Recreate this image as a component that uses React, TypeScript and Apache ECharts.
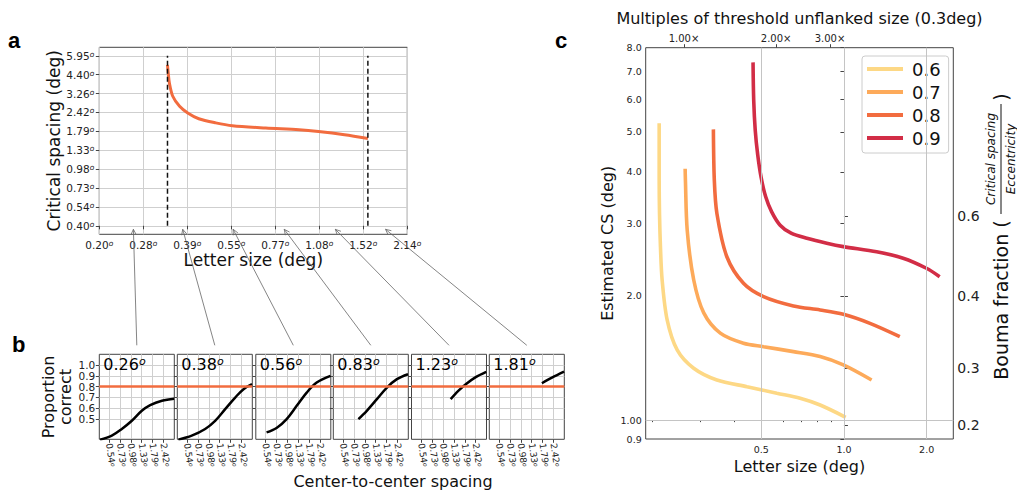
import React, { useEffect, useRef } from 'react';
import * as echarts from 'echarts';

// ---------------- Panel a data ----------------
const A_X_TICKS = ['0.20', '0.28', '0.39', '0.55', '0.77', '1.08', '1.52', '2.14'];
const CS_TICKS = ['0.40', '0.54', '0.73', '0.98', '1.33', '1.79', '2.42', '3.26', '4.40', '5.95'];
const A_SIZE = [0.338, 0.340, 0.343, 0.352, 0.371, 0.395, 0.43, 0.49, 0.557, 0.72, 0.93, 1.08, 1.32, 1.58];
const A_CS = [5.16, 4.52, 3.86, 3.13, 2.67, 2.40, 2.19, 2.05, 1.96, 1.89, 1.84, 1.79, 1.70, 1.60];
const A_LIMITS = [0.338, 1.58];

// ---------------- Panel b data ----------------
const B_SIZES = [0.26, 0.38, 0.56, 0.83, 1.23, 1.81];
const B_SIZE_LABELS = ['0.26', '0.38', '0.56', '0.83', '1.23', '1.81'];
const B_Y_TICKS = [0.5, 0.6, 0.7, 0.8, 0.9, 1.0];
const B_X_TICK_INDEX = [1, 2, 3, 4, 5, 6];
const B_THRESHOLD = 0.8;
const B1_SPACING = [0.421, 0.582, 0.767, 1.011, 1.332, 1.679, 2.322, 3.25];
const B1_PC = [0.307, 0.344, 0.406, 0.482, 0.575, 0.628, 0.668, 0.686];
const B2_SPACING = [0.425, 0.614, 0.889, 1.171, 1.544, 2.035, 2.563, 3.24];
const B2_PC = [0.307, 0.344, 0.406, 0.482, 0.590, 0.698, 0.776, 0.822];
const B3_SPACING = [0.555, 0.731, 0.966, 1.274, 1.679, 2.213, 3.24];
const B3_PC = [0.374, 0.415, 0.498, 0.621, 0.744, 0.837, 0.899];
const B4_SPACING = [0.824, 1.039, 1.373, 1.81, 2.385, 3.24];
const B4_PC = [0.498, 0.575, 0.683, 0.791, 0.869, 0.915];
const B5_SPACING = [1.215, 1.498, 1.893, 2.375, 3.24];
const B5_PC = [0.683, 0.760, 0.828, 0.883, 0.936];
const B6_SPACING = [1.76, 2.322, 3.24];
const B6_PC = [0.831, 0.883, 0.939];

// ---------------- Panel c data ----------------
const C_LEVELS = ['0.6', '0.7', '0.8', '0.9'];
const C06_SIZE = [0.2127, 0.2127, 0.2133, 0.215, 0.218, 0.2274, 0.2473, 0.284, 0.345, 0.444, 0.570, 0.693, 0.819, 1.015];
const C06_CS = [5.25, 3.82, 3.17, 2.63, 2.19, 1.75, 1.48, 1.336, 1.251, 1.205, 1.162, 1.130, 1.088, 1.016];
const C07_SIZE = [0.2644, 0.265, 0.269, 0.284, 0.309, 0.355, 0.431, 0.510, 0.655, 0.819, 0.995, 1.261];
const C07_CS = [4.07, 3.82, 2.89, 2.19, 1.82, 1.625, 1.536, 1.507, 1.466, 1.426, 1.361, 1.251];
const C08_SIZE = [0.335, 0.3376, 0.345, 0.375, 0.431, 0.510, 0.655, 0.819, 0.995, 1.244, 1.597];
const C08_CS = [5.07, 3.82, 3.17, 2.49, 2.147, 1.993, 1.892, 1.85, 1.806, 1.717, 1.594];
const C09_SIZE = [0.467, 0.4696, 0.4756, 0.4856, 0.5, 0.5192, 0.5459, 0.586, 0.6424, 0.733, 0.866, 0.995, 1.315, 1.642, 1.996, 2.23];
const C09_CS = [7.37, 5.97, 5.05, 4.40, 3.87, 3.48, 3.20, 2.97, 2.84, 2.76, 2.685, 2.635, 2.56, 2.47, 2.335, 2.228];
const C_X_MAJOR = [0.5, 1.0, 2.0];
const C_X_MAJOR_LABELS = ['0.5', '1.0', '2.0'];
const C_X_MINOR = [0.2, 0.3, 0.4, 0.6, 0.7, 0.8, 0.9];
const C_Y_TICKS = [0.9, 1, 2, 3, 4, 5, 6, 7, 8];
const C_Y_LABELS = ['0.9', '1.00', '2.0', '3.0', '4.0', '5.0', '6.0', '7.0', '8.0'];
const C_TOP_TICKS = [1, 2, 3];
const C_TOP_LABELS = ['1.00×', '2.00×', '3.00×'];
const BOUMA_TICKS = ['0.2', '0.3', '0.4', '0.6'];
const BOUMA_AT_CS = [0.973, 1.336, 2.0, 3.126];
const C_GRID_X = [0.5, 1.0, 2.0];
const C_GRID_Y = [1.0];

// ---------------- scales / layout ----------------
const C_X_RANGE = [0.19, 2.5];
const C_Y_RANGE = [0.9, 8];
const C_TOP_RANGE = [0.75, 7.58];
const B_X_RANGE = [0.1, 7];
const B_Y_RANGE = [0.31, 1.1];

const FONT = 'DejaVu Sans';
const COLORS = ['#fdd885', '#fdaa5a', '#f26c3f', '#d22d46'];
const RED = '#f26c3f';

const LA = { left: 99.3, top: 47.3, width: 308, height: 187 };
const LB = { lefts: [99.3, 177.3, 255.8, 333.3, 411.5, 489.3], top: 354.3, width: 75, height: 85 };
const LC = { left: 645.7, top: 47.7, width: 307.6, height: 391.3 };

const A0 = parseFloat(A_X_TICKS[0]);
const A1 = parseFloat(A_X_TICKS[A_X_TICKS.length - 1]);
const C0 = parseFloat(CS_TICKS[0]);
const C1 = parseFloat(CS_TICKS[CS_TICKS.length - 1]);
const aX = (s: number) => (Math.log(s / A0) / Math.log(A1 / A0)) * (A_X_TICKS.length - 1);
const csY = (v: number) => (Math.log(v / C0) / Math.log(C1 / C0)) * (CS_TICKS.length - 1);
const lg = Math.log10;
const ln = Math.log;

const near = (a: number, b: number) => Math.abs(a - b) < 1e-6;
const idxOf = (arr: number[], v: number, f: (x: number) => number) => arr.findIndex((t) => near(f(t), v));

const supRich = (size: number, sup: number) => ({
  n: { fontSize: size, color: '#222', fontFamily: FONT },
  s: { fontSize: sup, color: '#222', fontFamily: FONT, fontStyle: 'italic', verticalAlign: 'top' },
});

export default function App() {
  const ref = useRef<HTMLDivElement>(null);
  useEffect(() => {
    if (!ref.current) return;
    const chart = echarts.init(ref.current, null, { renderer: 'svg' });

    const grids: any[] = [];
    const xAxes: any[] = [];
    const yAxes: any[] = [];
    const series: any[] = [];
    const gridBase = { show: true, borderColor: '#444', borderWidth: 1, containLabel: false };
    const split = { show: true, lineStyle: { color: '#cfcfcf', width: 1 } };
    const tick = (len: number) => ({ show: true, length: len, lineStyle: { color: '#444', width: 1 } });
    const always = { showMinLabel: true, showMaxLabel: true, hideOverlap: false };

    // ---- panel a ----
    grids.push({ ...gridBase, left: LA.left, top: LA.top, width: LA.width, height: LA.height });
    xAxes.push({
      type: 'value', gridIndex: 0, min: 0, max: A_X_TICKS.length - 1, interval: 1,
      axisLine: { show: false }, axisTick: tick(3.5), splitLine: split,
      axisLabel: {
        ...always, margin: 5,
        formatter: (v: number) => {
          const i = Math.round(v);
          return near(v, i) ? `{n|${A_X_TICKS[i]}}{s|o}` : '';
        },
        rich: supRich(10.5, 7.5),
      },
      name: 'Letter size (deg)', nameLocation: 'middle', nameGap: 16,
      nameTextStyle: { fontSize: 17, color: '#111', fontFamily: FONT },
    });
    const csIdx = CS_TICKS.map((_, i) => i);
    yAxes.push({
      type: 'value', gridIndex: 0, min: -0.45, max: CS_TICKS.length - 1 + 0.45,
      axisLine: { show: false }, axisTick: { ...tick(3.5), customValues: csIdx }, splitLine: split,
      axisLabel: {
        ...always, customValues: csIdx, margin: 5,
        formatter: (v: number) => {
          const i = Math.round(v);
          return near(v, i) ? `{n|${CS_TICKS[i]}}{s|o}` : '';
        },
        rich: supRich(10.5, 7.5),
      },
      name: 'Critical spacing (deg)', nameLocation: 'middle', nameGap: 36,
      nameTextStyle: { fontSize: 17, color: '#111', fontFamily: FONT },
    });
    series.push({
      type: 'line', xAxisIndex: 0, yAxisIndex: 0, showSymbol: false, smooth: 0.3, z: 3,
      lineStyle: { color: RED, width: 3 },
      data: A_SIZE.map((s, i) => [aX(s), csY(A_CS[i])]),
    });
    A_LIMITS.forEach((s) => {
      series.push({
        type: 'line', xAxisIndex: 0, yAxisIndex: 0, showSymbol: false, z: 4,
        lineStyle: { color: '#111', width: 1.5, type: [5, 3] },
        data: [[aX(s), csY(C0)], [aX(s), csY(C1)]],
      });
    });

    // ---- panel b ----
    const bSp = [B1_SPACING, B2_SPACING, B3_SPACING, B4_SPACING, B5_SPACING, B6_SPACING];
    const bPc = [B1_PC, B2_PC, B3_PC, B4_PC, B5_PC, B6_PC];
    const bLabelsA = B_Y_TICKS.filter((_, i) => i % 2 === 0);
    const bLabelsB = B_Y_TICKS.filter((_, i) => i % 2 === 1);
    const bYLabel = (vals: number[]) => ({
      ...always, customValues: vals, margin: 4, fontSize: 10.5, lineHeight: 10,
      color: '#222', fontFamily: FONT,
      formatter: (v: number) => v.toFixed(1),
    });
    LB.lefts.forEach((left, k) => {
      const gi = grids.length;
      grids.push({ ...gridBase, left, top: LB.top, width: LB.width, height: LB.height });
      xAxes.push({
        type: 'value', gridIndex: gi, min: B_X_RANGE[0], max: B_X_RANGE[1],
        axisLine: { show: false }, axisTick: { ...tick(3.5), customValues: B_X_TICK_INDEX }, splitLine: split,
        axisLabel: {
          ...always, customValues: B_X_TICK_INDEX, rotate: -82, margin: 4,
          formatter: (v: number) => {
            const i = Math.round(v);
            return near(v, i) ? `{n|${CS_TICKS[i]}}{s|o}` : '';
          },
          rich: supRich(9, 6),
        },
      });
      yAxes.push({
        type: 'value', gridIndex: gi, min: B_Y_RANGE[0], max: B_Y_RANGE[1],
        axisLine: { show: false }, axisTick: { ...tick(3.5), customValues: B_Y_TICKS }, splitLine: split,
        axisLabel: k === 0 ? bYLabel(bLabelsA) : { show: false },
      });
      series.push({
        type: 'line', xAxisIndex: gi, yAxisIndex: gi, showSymbol: false, smooth: 0.35, z: 3,
        lineStyle: { color: '#000', width: 2.5 },
        data: bSp[k].map((s, i) => [csY(s), bPc[k][i]]),
        markLine: {
          silent: true, symbol: 'none', label: { show: false },
          lineStyle: { color: RED, width: 2.5, type: 'solid' },
          data: [{ yAxis: B_THRESHOLD }],
        },
      });
    });

    // ---- panel c ----
    const cg = grids.length;
    grids.push({ ...gridBase, left: LC.left, top: LC.top, width: LC.width, height: LC.height });
    const cxMain = xAxes.length;
    xAxes.push({
      type: 'value', gridIndex: cg, position: 'bottom', min: lg(C_X_RANGE[0]), max: lg(C_X_RANGE[1]),
      axisLine: { show: false }, splitLine: { show: false },
      axisTick: { ...tick(3.5), customValues: C_X_MAJOR.map(lg) },
      axisLabel: {
        ...always, customValues: C_X_MAJOR.map(lg), margin: 5, fontSize: 9.5, color: '#222', fontFamily: FONT,
        formatter: (v: number) => { const i = idxOf(C_X_MAJOR, v, lg); return i >= 0 ? C_X_MAJOR_LABELS[i] : ''; },
      },
      name: 'Letter size (deg)', nameLocation: 'middle', nameGap: 17,
      nameTextStyle: { fontSize: 16, color: '#111', fontFamily: FONT },
    });
    xAxes.push({
      type: 'value', gridIndex: cg, position: 'bottom', min: lg(C_X_RANGE[0]), max: lg(C_X_RANGE[1]),
      axisLine: { show: false }, splitLine: { show: false },
      axisTick: { ...tick(2), customValues: C_X_MINOR.map(lg) },
      axisLabel: { show: false },
    });
    xAxes.push({
      type: 'value', gridIndex: cg, position: 'top', min: ln(C_TOP_RANGE[0]), max: ln(C_TOP_RANGE[1]),
      axisLine: { show: false }, splitLine: { show: false },
      axisTick: { ...tick(3.5), customValues: C_TOP_TICKS.map(ln) },
      axisLabel: {
        ...always, customValues: C_TOP_TICKS.map(ln), margin: 4, fontSize: 10, color: '#222', fontFamily: FONT,
        formatter: (v: number) => { const i = idxOf(C_TOP_TICKS, v, ln); return i >= 0 ? C_TOP_LABELS[i] : ''; },
      },
      name: 'Multiples of threshold unflanked size (0.3deg)', nameLocation: 'middle', nameGap: 21,
      nameTextStyle: { fontSize: 16, color: '#111', fontFamily: FONT },
    });
    const cyLeft = yAxes.length;
    yAxes.push({
      type: 'value', gridIndex: cg, position: 'left', min: lg(C_Y_RANGE[0]), max: lg(C_Y_RANGE[1]),
      axisLine: { show: false }, splitLine: { show: false },
      axisTick: { ...tick(3.5), customValues: C_Y_TICKS.map(lg) },
      axisLabel: {
        ...always, customValues: C_Y_TICKS.map(lg), margin: 4, fontSize: 9.5, color: '#222', fontFamily: FONT,
        formatter: (v: number) => { const i = idxOf(C_Y_TICKS, v, lg); return i >= 0 ? C_Y_LABELS[i] : ''; },
      },
      name: 'Estimated CS (deg)', nameLocation: 'middle', nameGap: 30,
      nameTextStyle: { fontSize: 16, color: '#111', fontFamily: FONT },
    });
    yAxes.push({
      type: 'value', gridIndex: cg, position: 'right', min: lg(C_Y_RANGE[0]), max: lg(C_Y_RANGE[1]),
      axisLine: { show: false }, splitLine: { show: false },
      axisTick: { ...tick(4), customValues: BOUMA_AT_CS.map(lg) },
      axisLabel: {
        ...always, customValues: BOUMA_AT_CS.map(lg), margin: 4, fontSize: 14, color: '#222', fontFamily: FONT,
        formatter: (v: number) => { const i = idxOf(BOUMA_AT_CS, v, lg); return i >= 0 ? BOUMA_TICKS[i] : ''; },
      },
    });
    // second label layer for the first panel-b subplot (alternate tick labels)
    yAxes.push({
      type: 'value', gridIndex: 1, position: 'left', min: B_Y_RANGE[0], max: B_Y_RANGE[1],
      axisLine: { show: false }, axisTick: { show: false }, splitLine: { show: false },
      axisLabel: bYLabel(bLabelsB),
    });
    series.push({
      type: 'line', name: 'grid', xAxisIndex: cxMain, yAxisIndex: cyLeft, z: 1, showSymbol: false,
      lineStyle: { width: 0 }, data: [[lg(1), lg(1)]],
      markLine: {
        silent: true, symbol: 'none', label: { show: false },
        lineStyle: { color: '#c4c4c4', width: 1, type: 'solid' },
        data: [...C_GRID_X.map((v) => ({ xAxis: lg(v) })), ...C_GRID_Y.map((v) => ({ yAxis: lg(v) }))],
      },
    });
    const cSize = [C06_SIZE, C07_SIZE, C08_SIZE, C09_SIZE];
    const cCs = [C06_CS, C07_CS, C08_CS, C09_CS];
    C_LEVELS.forEach((name, k) => {
      series.push({
        type: 'line', name, xAxisIndex: cxMain, yAxisIndex: cyLeft, showSymbol: false, smooth: 0.3, z: 3,
        color: COLORS[k], lineStyle: { color: COLORS[k], width: 3.6 },
        data: cSize[k].map((s, i) => [lg(s), lg(cCs[k][i])]),
      });
    });

    chart.setOption({
      animation: false,
      textStyle: { fontFamily: FONT },
      grid: grids,
      xAxis: xAxes,
      yAxis: yAxes,
      series,
      legend: {
        data: C_LEVELS, orient: 'vertical', left: 862, top: 56, icon: 'rect',
        itemWidth: 36, itemHeight: 4, itemGap: 5, padding: [4, 8, 6, 5],
        textStyle: { fontSize: 18, color: '#111', fontFamily: FONT, padding: [0, 0, 0, 4] },
        borderColor: '#cccccc', borderWidth: 1, borderRadius: 3, backgroundColor: '#fff',
        selectedMode: false,
      },
    });

    // ---- annotations ----
    const graphic: any[] = [];
    const letter = (id: string, t: string, x: number, y: number) => ({
      type: 'text', id, x, y,
      style: { text: t, fontSize: 22, fontWeight: 'bold', fontFamily: 'Liberation Sans', fill: '#000', textVerticalAlign: 'middle' },
    });
    graphic.push(letter('la', 'a', 8, 40));
    graphic.push(letter('lb', 'b', 12, 344));
    graphic.push(letter('lc', 'c', 555, 40));
    LB.lefts.forEach((left, k) => {
      graphic.push({
        type: 'text', id: 'bt' + k, x: left + 4, y: LB.top + 2, z: 10,
        style: {
          text: `{n|${B_SIZE_LABELS[k]}}{s|o}`, textVerticalAlign: 'top',
          rich: supRich(16, 11),
        },
      });
      const tipX = chart.convertToPixel({ xAxisIndex: 0 }, aX(B_SIZES[k])) as number;
      const tipY = LA.top + LA.height - 5;
      const tailX = left + LB.width / 2;
      const tailY = LB.top - 9;
      const dx = tipX - tailX, dy = tipY - tailY;
      const len = Math.hypot(dx, dy);
      const ux = dx / len, uy = dy / len;
      const h = 6, ang = 0.45;
      const p1 = [tipX - h * (ux * Math.cos(ang) - uy * Math.sin(ang)), tipY - h * (uy * Math.cos(ang) + ux * Math.sin(ang))];
      const p2 = [tipX - h * (ux * Math.cos(-ang) - uy * Math.sin(-ang)), tipY - h * (uy * Math.cos(-ang) + ux * Math.sin(-ang))];
      graphic.push({
        type: 'line', id: 'ar' + k, z: 10, shape: { x1: tailX, y1: tailY, x2: tipX, y2: tipY },
        style: { stroke: '#666', lineWidth: 0.8 },
      });
      graphic.push({
        type: 'polyline', id: 'ah' + k, z: 10, shape: { points: [p1, [tipX, tipY], p2] },
        style: { stroke: '#666', lineWidth: 0.8, fill: null },
      });
    });
    graphic.push({
      type: 'text', id: 'bylab', x: 57, y: 397, rotation: Math.PI / 2,
      style: { text: 'Proportion\ncorrect', fontSize: 16, lineHeight: 17, fontFamily: FONT, fill: '#111', textAlign: 'center', textVerticalAlign: 'middle' },
    });
    graphic.push({
      type: 'text', id: 'bxlab', x: 393, y: 481,
      style: { text: 'Center-to-center spacing', fontSize: 16, fontFamily: FONT, fill: '#111', textAlign: 'center', textVerticalAlign: 'middle' },
    });
    graphic.push({
      type: 'group', id: 'bouma', x: 1001, y: 300, rotation: Math.PI / 2,
      children: [
        { type: 'text', x: 0, y: 0, style: { text: 'Bouma fraction (', fontSize: 19, fontFamily: FONT, fill: '#111', textAlign: 'center', textVerticalAlign: 'middle' } },
        { type: 'text', x: 141, y: -10, style: { text: 'Critical spacing', fontSize: 12, fontStyle: 'italic', fontFamily: FONT, fill: '#111', textAlign: 'center', textVerticalAlign: 'middle' } },
        { type: 'line', shape: { x1: 86, y1: 0, x2: 196, y2: 0 }, style: { stroke: '#111', lineWidth: 1 } },
        { type: 'text', x: 141, y: 10, style: { text: 'Eccentricity', fontSize: 12, fontStyle: 'italic', fontFamily: FONT, fill: '#111', textAlign: 'center', textVerticalAlign: 'middle' } },
        { type: 'text', x: 203, y: 0, style: { text: ')', fontSize: 19, fontFamily: FONT, fill: '#111', textAlign: 'center', textVerticalAlign: 'middle' } },
      ],
    });
    chart.setOption({ graphic });

    return () => chart.dispose();
  }, []);
  return <div ref={ref} style={{ position: 'absolute', left: 0, top: 0, width: 1017, height: 491, background: '#fff' }} />;
}
